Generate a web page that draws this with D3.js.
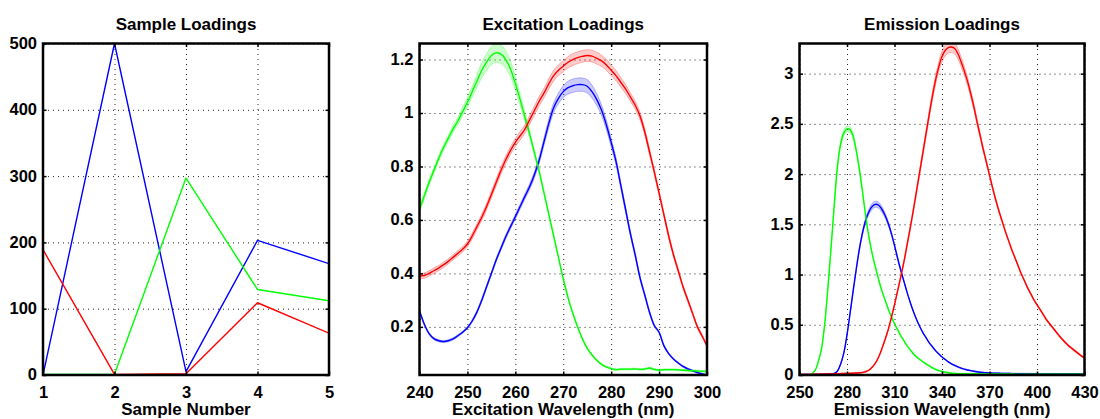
<!DOCTYPE html>
<html>
<head>
<meta charset="utf-8">
<script src="https://cdn.jsdelivr.net/npm/d3@7"></script>
<style>
  body { margin: 0; background: #fff; }
  svg { display: block; }
</style>
</head>
<body>
<svg id="chart" width="1100" height="419"></svg>
<script>
// ---------- Sample loadings (one value per sample, per component) ----------
const sampleNumbers = [1, 2, 3, 4, 5];
const sampleBlue  = [0, 500, 5, 203, 168];
const sampleGreen = [1, 1, 297, 129, 112];
const sampleRed   = [189, 1, 2, 109, 63];

// ---------- Excitation loadings, 240–300 nm in 1 nm steps ----------
const excitationWavelengths = d3.range(240, 301, 1);
const excitationGreen = [
  0.64, 0.69, 0.74, 0.785, 0.83, 0.87, 0.905, 0.94, 0.97, 1.005,
  1.04, 1.08, 1.12, 1.16, 1.19, 1.215, 1.225, 1.22, 1.20, 1.165,
  1.11, 1.05, 0.985, 0.92, 0.85, 0.78, 0.70, 0.62, 0.54, 0.46,
  0.38, 0.31, 0.25, 0.20, 0.155, 0.12, 0.095, 0.075, 0.06, 0.05,
  0.044, 0.04, 0.042, 0.042, 0.042, 0.043, 0.041, 0.042, 0.046, 0.041,
  0.038, 0.04, 0.04, 0.04, 0.039, 0.038, 0.037, 0.036, 0.035, 0.034,
  0.033
];
const excitationRed = [
  0.39, 0.392, 0.40, 0.41, 0.42, 0.432, 0.445, 0.46, 0.475, 0.49,
  0.51, 0.54, 0.575, 0.61, 0.65, 0.695, 0.74, 0.785, 0.825, 0.86,
  0.89, 0.915, 0.94, 0.975, 1.01, 1.045, 1.075, 1.11, 1.14, 1.16,
  1.175, 1.19, 1.20, 1.207, 1.212, 1.215, 1.213, 1.205, 1.195, 1.18,
  1.16, 1.14, 1.115, 1.09, 1.06, 1.03, 0.99, 0.93, 0.855, 0.78,
  0.70, 0.62, 0.54, 0.47, 0.41, 0.35, 0.30, 0.25, 0.20, 0.165,
  0.13
];
const excitationBlue = [
  0.26, 0.21, 0.175, 0.156, 0.148, 0.145, 0.148, 0.155, 0.167, 0.18,
  0.197, 0.222, 0.256, 0.30, 0.35, 0.40, 0.45, 0.494, 0.537, 0.575,
  0.612, 0.65, 0.688, 0.725, 0.77, 0.825, 0.894, 0.962, 1.02, 1.055,
  1.08, 1.095, 1.102, 1.106, 1.106, 1.1, 1.08, 1.05, 1.01, 0.955,
  0.89, 0.82, 0.73, 0.64, 0.55, 0.47, 0.385, 0.32, 0.255, 0.205,
  0.18, 0.13, 0.10, 0.08, 0.065, 0.052, 0.043, 0.036, 0.029, 0.024,
  0.02
];
// half-widths of the uncertainty bands
const excitationGreenSpread = [
  0.012, 0.012, 0.011, 0.011, 0.011, 0.011, 0.012, 0.013, 0.014, 0.016,
  0.018, 0.021, 0.024, 0.028, 0.031, 0.034, 0.035, 0.035, 0.033, 0.029,
  0.025, 0.02, 0.016, 0.013, 0.01, 0.008, 0.006, 0.005, 0.004, 0.003,
  0.003, 0.003, 0.003, 0.003, 0.003, 0.003, 0.003, 0.003, 0.003, 0.003,
  0.003, 0.003, 0.003, 0.003, 0.003, 0.003, 0.003, 0.003, 0.003, 0.003,
  0.003, 0.003, 0.003, 0.003, 0.003, 0.003, 0.003, 0.003, 0.003, 0.003,
  0.003
];
const excitationRedSpread = [
  0.01, 0.01, 0.01, 0.01, 0.01, 0.01, 0.01, 0.01, 0.01, 0.01,
  0.01, 0.011, 0.011, 0.012, 0.012, 0.013, 0.013, 0.014, 0.014, 0.015,
  0.015, 0.016, 0.016, 0.017, 0.017, 0.018, 0.018, 0.019, 0.02, 0.02,
  0.021, 0.021, 0.022, 0.022, 0.022, 0.022, 0.022, 0.022, 0.021, 0.021,
  0.02, 0.019, 0.018, 0.017, 0.016, 0.015, 0.014, 0.013, 0.012, 0.011,
  0.01, 0.009, 0.009, 0.008, 0.008, 0.007, 0.007, 0.006, 0.006, 0.006,
  0.005
];
const excitationBlueSpread = [
  0.004, 0.004, 0.004, 0.004, 0.004, 0.004, 0.004, 0.004, 0.004, 0.004,
  0.004, 0.005, 0.005, 0.006, 0.006, 0.006, 0.007, 0.007, 0.008, 0.008,
  0.009, 0.009, 0.01, 0.011, 0.012, 0.013, 0.014, 0.016, 0.018, 0.02,
  0.022, 0.024, 0.025, 0.025, 0.025, 0.025, 0.024, 0.022, 0.02, 0.018,
  0.016, 0.014, 0.012, 0.011, 0.01, 0.009, 0.008, 0.007, 0.006, 0.005,
  0.004, 0.004, 0.003, 0.003, 0.003, 0.003, 0.003, 0.003, 0.003, 0.003,
  0.003
];

// ---------- Emission loadings, 250–430 nm in 2 nm steps ----------
const emissionWavelengths = d3.range(250, 431, 2);
const emissionGreen = [
  0.003, 0.003, 0.003, 0.004, 0.015, 0.05, 0.14, 0.27, 0.52, 0.88,   // 250-268
  1.28, 1.70, 2.08, 2.30, 2.41, 2.45, 2.44, 2.37, 2.22, 2.03,        // 270-288
  1.80, 1.56, 1.36, 1.20, 1.07, 0.95, 0.84, 0.75, 0.66, 0.58,        // 290-308
  0.51, 0.45, 0.39, 0.34, 0.29, 0.25, 0.21, 0.18, 0.155, 0.13,       // 310-328
  0.11, 0.09, 0.07, 0.055, 0.045, 0.035, 0.028, 0.022, 0.018, 0.015, // 330-348
  0.013,                                                              // 350
  0.012, 0.012, 0.012, 0.011, 0.011, 0.011, 0.011, 0.011, 0.010, 0.010, // 352-370
  0.010, 0.010, 0.010, 0.010, 0.010, 0.010, 0.010, 0.009, 0.009, 0.009, // 372-390
  0.009, 0.009, 0.009, 0.009, 0.009, 0.009, 0.009, 0.009, 0.009, 0.009, // 392-410
  0.008, 0.008, 0.008, 0.008, 0.008, 0.008, 0.008, 0.008, 0.008, 0.008  // 412-430
];
const emissionBlue = [
  0.005, 0.005, 0.005, 0.005, 0.005, 0.005, 0.005, 0.006, 0.006, 0.007, // 250-268
  0.008, 0.015, 0.04, 0.11, 0.22, 0.40, 0.62, 0.85, 1.07, 1.27,         // 270-288
  1.43, 1.55, 1.63, 1.68, 1.70, 1.69, 1.65, 1.59, 1.51, 1.41,           // 290-308
  1.29, 1.16, 1.04, 0.93, 0.82, 0.72, 0.63, 0.55, 0.48, 0.42,           // 310-328
  0.37, 0.32, 0.28, 0.24, 0.21, 0.18, 0.155, 0.13, 0.11, 0.095,         // 330-348
  0.08, 0.068, 0.058, 0.05, 0.043, 0.037, 0.032, 0.028, 0.025, 0.022,   // 350-368
  0.02, 0.019, 0.018, 0.017, 0.016, 0.015, 0.015, 0.014, 0.014, 0.013,  // 370-388
  0.013, 0.013, 0.012, 0.012, 0.012, 0.012, 0.011, 0.011, 0.011, 0.011, // 390-408
  0.011, 0.011, 0.010, 0.010, 0.010, 0.010, 0.010, 0.010, 0.010, 0.010, // 410-428
  0.010                                                                  // 430
];
const emissionRed = [
  0.005, 0.005, 0.006, 0.006, 0.007, 0.008, 0.008, 0.009, 0.01, 0.01,   // 250-268
  0.011, 0.012, 0.013, 0.014, 0.015, 0.016, 0.017, 0.018, 0.02, 0.022,  // 270-288
  0.026, 0.035, 0.05, 0.08, 0.12, 0.18, 0.26, 0.35, 0.45, 0.57,         // 290-308
  0.70, 0.84, 0.98, 1.13, 1.30, 1.47, 1.65, 1.84, 2.03, 2.22,           // 310-328
  2.41, 2.60, 2.78, 2.94, 3.07, 3.17, 3.23, 3.26, 3.265, 3.25,          // 330-348
  3.20, 3.12, 3.03, 2.93, 2.81, 2.68, 2.53, 2.39, 2.25, 2.12,           // 350-368
  1.99, 1.86, 1.74, 1.63, 1.53, 1.43, 1.34, 1.25, 1.17, 1.09,           // 370-388
  1.01, 0.94, 0.87, 0.81, 0.75, 0.70, 0.65, 0.60, 0.55, 0.51,           // 390-408
  0.47, 0.43, 0.39, 0.355, 0.32, 0.29, 0.265, 0.24, 0.215, 0.19,        // 410-428
  0.17                                                                   // 430
];
const emissionGreenSpread = [
  0.003, 0.003, 0.003, 0.003, 0.003, 0.003, 0.003, 0.005, 0.008, 0.012,
  0.016, 0.02, 0.024, 0.027, 0.03, 0.03, 0.03, 0.028, 0.024, 0.02,
  0.016, 0.012, 0.009, 0.007, 0.006, 0.005, 0.005, 0.005, 0.005, 0.005,
  0.005, 0.005, 0.005, 0.005, 0.005, 0.005, 0.005, 0.005, 0.005, 0.005,
  0.005, 0.005, 0.005, 0.005, 0.005, 0.005, 0.005, 0.005, 0.005, 0.005,
  0.005, 0.005, 0.005, 0.005, 0.005, 0.005, 0.005, 0.005, 0.005, 0.005,
  0.005, 0.005, 0.005, 0.005, 0.005, 0.005, 0.005, 0.005, 0.005, 0.005,
  0.005, 0.005, 0.005, 0.005, 0.005, 0.005, 0.005, 0.005, 0.005, 0.005,
  0.005, 0.005, 0.005, 0.005, 0.005, 0.005, 0.005, 0.005, 0.005, 0.005,
  0.005
];
const emissionBlueSpread = [
  0.003, 0.003, 0.003, 0.003, 0.003, 0.003, 0.003, 0.003, 0.003, 0.003,
  0.003, 0.003, 0.003, 0.005, 0.007, 0.01, 0.012, 0.015, 0.018, 0.021,
  0.024, 0.026, 0.028, 0.03, 0.03, 0.03, 0.028, 0.025, 0.021, 0.017,
  0.014, 0.011, 0.009, 0.007, 0.005, 0.005, 0.005, 0.005, 0.005, 0.005,
  0.005, 0.005, 0.005, 0.005, 0.005, 0.005, 0.005, 0.005, 0.005, 0.005,
  0.005, 0.005, 0.005, 0.005, 0.005, 0.005, 0.005, 0.005, 0.005, 0.005,
  0.005, 0.005, 0.005, 0.005, 0.005, 0.005, 0.005, 0.005, 0.005, 0.005,
  0.005, 0.005, 0.005, 0.005, 0.005, 0.005, 0.005, 0.005, 0.005, 0.005,
  0.005, 0.005, 0.005, 0.005, 0.005, 0.005, 0.005, 0.005, 0.005, 0.005,
  0.005
];
const emissionRedSpread = [
  0.005, 0.005, 0.005, 0.005, 0.005, 0.005, 0.005, 0.005, 0.005, 0.005,
  0.005, 0.005, 0.005, 0.005, 0.005, 0.005, 0.005, 0.005, 0.005, 0.005,
  0.005, 0.005, 0.005, 0.005, 0.005, 0.006, 0.007, 0.008, 0.009, 0.01,
  0.012, 0.014, 0.016, 0.018, 0.02, 0.022, 0.025, 0.028, 0.031, 0.034,
  0.037, 0.04, 0.043, 0.046, 0.049, 0.052, 0.054, 0.055, 0.055, 0.054,
  0.052, 0.049, 0.046, 0.042, 0.038, 0.034, 0.031, 0.028, 0.025, 0.022,
  0.02, 0.018, 0.016, 0.015, 0.014, 0.013, 0.012, 0.011, 0.01, 0.01,
  0.01, 0.01, 0.01, 0.01, 0.01, 0.01, 0.01, 0.01, 0.01, 0.01,
  0.01, 0.01, 0.01, 0.01, 0.01, 0.01, 0.01, 0.01, 0.01, 0.01,
  0.01
];

// ---------- Tick values ----------
const sampleTicksX = [1, 2, 3, 4, 5];
const sampleTicksY = [0, 100, 200, 300, 400, 500];
const excitationTicksX = [240, 250, 260, 270, 280, 290, 300];
const excitationTicksY = [0.2, 0.4, 0.6, 0.8, 1, 1.2];
const emissionTicksX = [250, 280, 310, 340, 370, 400, 430];
const emissionTicksY = [0, 0.5, 1, 1.5, 2, 2.5, 3];

// ---------- Layout & styling ----------
const FONT = "'Liberation Sans', Arial, Helvetica, sans-serif";
const plotTop = 43.5, plotBottom = 375;
const BLUE = "#0000ff", GREEN = "#00ff00", RED = "#ff0000";

const panels = [
  {
    title: "Sample Loadings", xLabel: "Sample Number",
    left: 43, right: 329, xDomain: [1, 5], yDomain: [0, 500],
    xTicks: sampleTicksX, yTicks: sampleTicksY, smooth: false,
    series: [
      { x: sampleNumbers, y: sampleBlue, color: BLUE },
      { x: sampleNumbers, y: sampleGreen, color: GREEN },
      { x: sampleNumbers, y: sampleRed, color: RED }
    ]
  },
  {
    title: "Excitation Loadings", xLabel: "Excitation Wavelength (nm)",
    left: 419.5, right: 707, xDomain: [240, 300], yDomain: [0.02, 1.26],
    xTicks: excitationTicksX, yTicks: excitationTicksY, smooth: true,
    series: [
      { x: excitationWavelengths, y: excitationBlue, spread: excitationBlueSpread, color: BLUE },
      { x: excitationWavelengths, y: excitationGreen, spread: excitationGreenSpread, color: GREEN },
      { x: excitationWavelengths, y: excitationRed, spread: excitationRedSpread, color: RED }
    ]
  },
  {
    title: "Emission Loadings", xLabel: "Emission Wavelength (nm)",
    left: 799.5, right: 1084.5, xDomain: [250, 430], yDomain: [0, 3.30],
    xTicks: emissionTicksX, yTicks: emissionTicksY, smooth: true,
    series: [
      { x: emissionWavelengths, y: emissionBlue, spread: emissionBlueSpread, color: BLUE },
      { x: emissionWavelengths, y: emissionGreen, spread: emissionGreenSpread, color: GREEN },
      { x: emissionWavelengths, y: emissionRed, spread: emissionRedSpread, color: RED }
    ]
  }
];

const svg = d3.select("#chart");
const defs = svg.append("defs");

function styleAxisText(sel, size) {
  sel.attr("font-family", FONT).attr("font-size", size).attr("font-weight", "bold");
  sel.selectAll("text").attr("fill", "#000");
}

panels.forEach((p, i) => {
  const g = svg.append("g");
  const x = d3.scaleLinear().domain(p.xDomain).range([p.left, p.right]);
  const y = d3.scaleLinear().domain(p.yDomain).range([plotBottom, plotTop]);
  const w = p.right - p.left, h = plotBottom - plotTop;

  // clip region for the data marks
  defs.append("clipPath").attr("id", "clip" + i)
    .append("rect").attr("x", p.left).attr("y", plotTop).attr("width", w).attr("height", h);

  // dotted grid
  g.append("g").attr("transform", `translate(0,${plotBottom})`)
    .call(d3.axisBottom(x).tickValues(p.xTicks).tickSize(-h).tickFormat(""))
    .call(s => {
      s.select(".domain").remove();
      s.selectAll("line").attr("stroke", "#222").attr("stroke-width", 1).attr("stroke-dasharray", "1,4");
    });
  g.append("g").attr("transform", `translate(${p.left},0)`)
    .call(d3.axisLeft(y).tickValues(p.yTicks).tickSize(-w).tickFormat(""))
    .call(s => {
      s.select(".domain").remove();
      s.selectAll("line").attr("stroke", "#222").attr("stroke-width", 1).attr("stroke-dasharray", "1,4");
    });

  // data
  const marks = g.append("g").attr("clip-path", `url(#clip${i})`);
  const curve = p.smooth ? d3.curveCatmullRom.alpha(0.5) : d3.curveLinear;

  if (p.smooth) {
    p.series.forEach(s => {
      const pts = s.x.map((xv, k) => ({ x: xv, y: s.y[k], d: s.spread[k] }));
      const area = d3.area().x(d => x(d.x)).y0(d => y(d.y - d.d)).y1(d => y(d.y + d.d)).curve(curve);
      marks.append("path").datum(pts).attr("d", area)
        .attr("fill", s.color).attr("fill-opacity", 0.2).attr("stroke", "none");
      [-1, 1].forEach(sign => {
        const edge = d3.line().x(d => x(d.x)).y(d => y(d.y + sign * d.d)).curve(curve);
        marks.append("path").datum(pts).attr("d", edge)
          .attr("fill", "none").attr("stroke", s.color).attr("stroke-opacity", 0.35).attr("stroke-width", 0.8);
      });
    });
  }
  p.series.forEach(s => {
    const pts = s.x.map((xv, k) => ({ x: xv, y: s.y[k] }));
    const line = d3.line().x(d => x(d.x)).y(d => y(d.y)).curve(curve);
    marks.append("path").datum(pts).attr("d", line)
      .attr("fill", "none").attr("stroke", s.color).attr("stroke-width", 1.4)
      .attr("stroke-linejoin", "round");
  });

  // tick marks on all four sides, pointing inward
  const bottomAxis = g.append("g").attr("transform", `translate(0,${plotBottom})`)
    .call(d3.axisBottom(x).tickValues(p.xTicks).tickSize(-3.5).tickPadding(11).tickFormat(d => String(d)));
  const leftAxis = g.append("g").attr("transform", `translate(${p.left},0)`)
    .call(d3.axisLeft(y).tickValues(p.yTicks).tickSize(-3.5).tickPadding(6).tickFormat(d => String(d)));
  const topAxis = g.append("g").attr("transform", `translate(0,${plotTop})`)
    .call(d3.axisTop(x).tickValues(p.xTicks).tickSize(-3.5).tickFormat(""));
  const rightAxis = g.append("g").attr("transform", `translate(${p.right},0)`)
    .call(d3.axisRight(y).tickValues(p.yTicks).tickSize(-3.5).tickFormat(""));
  [bottomAxis, leftAxis, topAxis, rightAxis].forEach(a => {
    a.select(".domain").remove();
    a.selectAll("line").attr("stroke", "#000").attr("stroke-width", 1.5);
    styleAxisText(a, 16.5);
  });
  leftAxis.selectAll("text").attr("dy", "0.3em");

  // frame
  g.append("rect").attr("x", p.left).attr("y", plotTop).attr("width", w).attr("height", h)
    .attr("fill", "none").attr("stroke", "#000").attr("stroke-width", 2.5);

  // titles
  g.append("text").attr("x", (p.left + p.right) / 2).attr("y", 30)
    .attr("text-anchor", "middle").attr("font-family", FONT).attr("font-size", 17)
    .attr("font-weight", "bold").attr("fill", "#000").text(p.title);
  g.append("text").attr("x", (p.left + p.right) / 2).attr("y", 415)
    .attr("text-anchor", "middle").attr("font-family", FONT).attr("font-size", 17)
    .attr("font-weight", "bold").attr("fill", "#000").text(p.xLabel);
});
</script>
</body>
</html>
